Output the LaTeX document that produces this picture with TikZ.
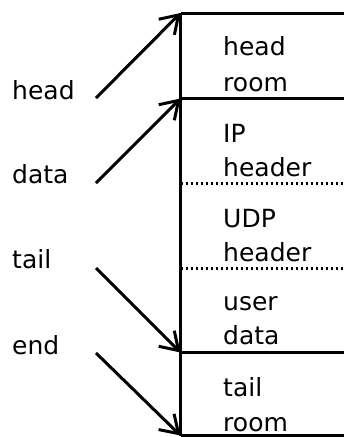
\documentclass[tikz,border=0pt]{standalone}
\usepackage{fontspec}
\setmainfont{DejaVu Sans}
\usetikzlibrary{arrows.meta}
\begin{document}
\begin{tikzpicture}[x=1pt,y=-1pt,
  lbl/.style={anchor=base west,inner sep=0pt,font=\fontsize{25}{30}\selectfont},
  wall/.style={line width=3pt},
  sep/.style={line width=2.5pt,dash pattern=on 2.5pt off 2.5pt},
  ptr/.style={line width=3pt,-{Straight Barb[length=17pt,width=22pt,line width=3pt]}}]
\useasboundingbox (0,0) rectangle (344,437);
% box coordinates
\coordinate (b0) at (180.5,13);
\coordinate (b1) at (180.5,98.5);
\coordinate (b4) at (180.5,352.5);
\coordinate (b5) at (180.5,435.5);
\coordinate (r0) at (346,13);
\coordinate (r1) at (346,98.5);
\coordinate (r4) at (346,352.5);
\coordinate (r5) at (346,435.5);
\coordinate (d2) at (180.5,183.5);
\coordinate (d3) at (180.5,268.5);
\coordinate (e2) at (346,183.5);
\coordinate (e3) at (346,268.5);
% walls
\draw[wall] (b0) -- (b5);
\draw[wall] (b0) -- (r0);
\draw[wall] (b1) -- (r1);
\draw[wall] (b4) -- (r4);
\draw[wall] (b5) -- (r5);
\draw[sep] (d2) -- (e2);
\draw[sep] (d3) -- (e3);
% box texts
\node[lbl] (hr1) at (223,55) {head};
\node[lbl] (hr2) at (223,91) {room};
\node[lbl] (ip1) at (223,142) {IP};
\node[lbl] (ip2) at (223,176) {header};
\node[lbl] (ud1) at (223,227) {UDP};
\node[lbl] (ud2) at (223,261) {header};
\node[lbl] (us1) at (223,310) {user};
\node[lbl] (us2) at (223,344) {data};
\node[lbl] (tr1) at (223,396) {tail};
\node[lbl] (tr2) at (223,431) {room};
% pointer labels
\node[lbl] (phead) at (12,99) {head};
\node[lbl] (pdata) at (12,183) {data};
\node[lbl] (ptail) at (12,268) {tail};
\node[lbl] (pend) at (12,354) {end};
\coordinate (s1) at (96,98);
\coordinate (s2) at (96,183);
\coordinate (s3) at (96,268);
\coordinate (s4) at (96,353);
\draw[ptr] (s1) -- (b0);
\draw[ptr] (s2) -- (b1);
\draw[ptr] (s3) -- (b4);
\draw[ptr] (s4) -- (b5);
\end{tikzpicture}
\end{document}
